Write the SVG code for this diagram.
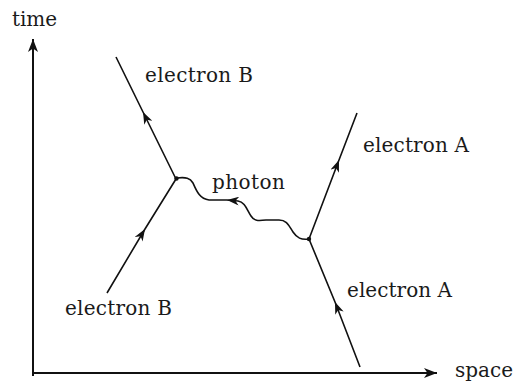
<svg xmlns="http://www.w3.org/2000/svg" width="515" height="383" viewBox="0 0 515 383">
<style>
.lbl{font-family:"DejaVu Serif","Liberation Serif",serif;font-size:20px;fill:#1a1a1a}
.ax{stroke:#111;stroke-width:2;fill:none}
.el{stroke:#111;stroke-width:1.6;fill:none}
.ph{stroke:#111;stroke-width:1.6;fill:none;stroke-linejoin:round}
.dot{fill:#111}
</style>
<defs>
<marker id="arr" markerUnits="userSpaceOnUse" markerWidth="13" markerHeight="9" refX="12" refY="4.5" orient="auto">
<path d="M0,0 L12,4.5 L0,9 L3.5,4.5 Z" fill="#111"/>
</marker>
<marker id="axarr" markerUnits="userSpaceOnUse" markerWidth="14" markerHeight="10" refX="13" refY="5" orient="auto">
<path d="M0,0 L13,5 L0,10 L3.5,5 Z" fill="#111"/>
</marker>
</defs>
<g id="axes">
<path class="ax" d="M33,376 L33,39" marker-end="url(#axarr)"/>
<path class="ax" d="M32,373 L437,373" marker-end="url(#axarr)"/>
</g>
<g id="axis-labels">
<text class="lbl" x="12" y="26" textLength="45" lengthAdjust="spacing">time</text>
<text class="lbl" x="455" y="377" textLength="58" lengthAdjust="spacing">space</text>
</g>
<g id="connectors">
<path id="electronB-out" class="el" d="M176,179 L143,112 L116,57" marker-mid="url(#arr)"/>
<path id="electronB-in" class="el" d="M107,293 L145,229 L176,179" marker-mid="url(#arr)"/>
<path id="electronA-out" class="el" d="M309,239 L339,160 L357,113" marker-mid="url(#arr)"/>
<path id="electronA-in" class="el" d="M360,367 L335,302 L309,239" marker-mid="url(#arr)"/>
<path id="photon-a" class="ph" d="M309,239 C301,240 297,238 293,232 C289,226 287,220 279,220 L266,220 C258,221 254,221 251,216 C247,210 245,202 238,201 L227,200" marker-end="url(#arr)"/>
<path id="photon-b" class="ph" d="M227,200 L209,200 C200,199 197,192 193,183 C190,178 186,177 177,178"/>
</g>
<g id="vertex-B"><circle class="dot" cx="176.5" cy="178.5" r="2.2"/></g>
<g id="vertex-A"><circle class="dot" cx="309" cy="239" r="2.2"/></g>
<g id="label-electronB-top"><text class="lbl" x="145" y="82" textLength="108" lengthAdjust="spacing">electron B</text></g>
<g id="label-electronB-bottom"><text class="lbl" x="65" y="315" textLength="107" lengthAdjust="spacing">electron B</text></g>
<g id="label-electronA-top"><text class="lbl" x="363" y="152" textLength="106" lengthAdjust="spacing">electron A</text></g>
<g id="label-electronA-bottom"><text class="lbl" x="347" y="297" textLength="105" lengthAdjust="spacing">electron A</text></g>
<g id="label-photon"><text class="lbl" x="212" y="189" textLength="73" lengthAdjust="spacing">photon</text></g>
</svg>
